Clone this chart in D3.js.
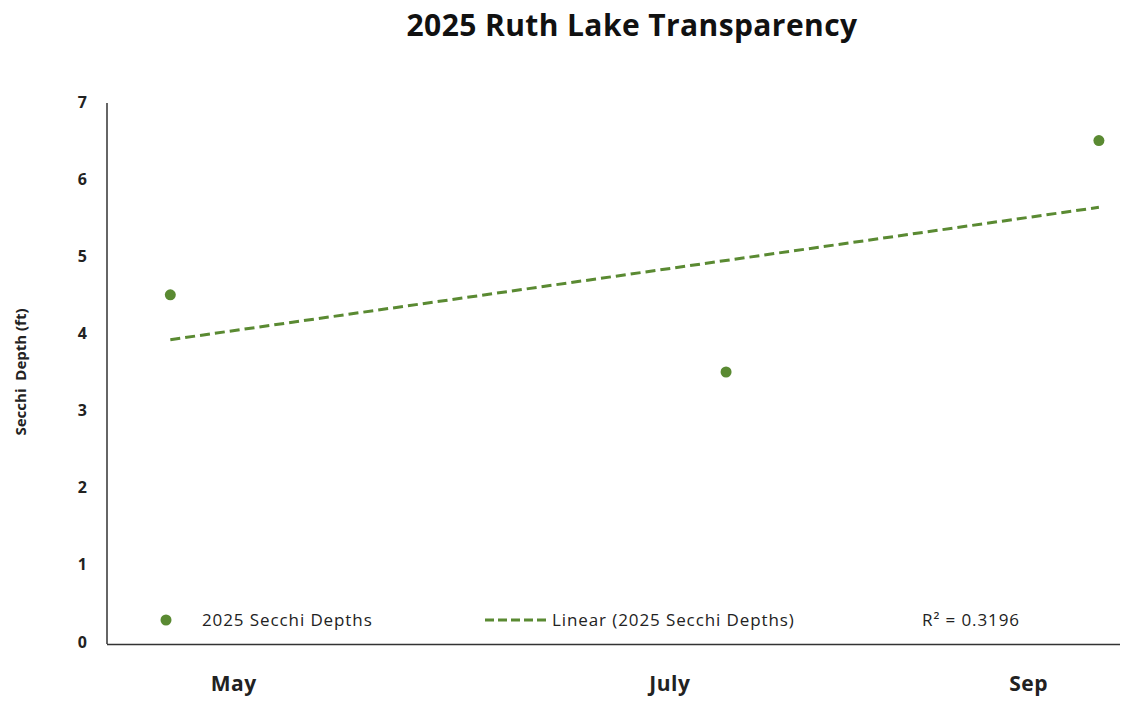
<!DOCTYPE html>
<html>
<head>
<meta charset="utf-8">
<script src="https://cdn.jsdelivr.net/npm/d3@7"></script>
<style>
  body { margin: 0; background: #fff; }
  svg text { font-family: "Open Sans", "Noto Sans", sans-serif; }
</style>
</head>
<body>
<div id="chart"></div>
<script>
var sampleDates = ["2025-05-11", "2025-07-29", "2025-09-20"];
var secchiDepths = [4.5, 3.5, 6.5];
var monthLabels = ["May", "July", "Sep"];
var monthLabelDates = ["2025-05-20", "2025-07-21", "2025-09-10"];
var yTicks = [0, 1, 2, 3, 4, 5, 6, 7];
var r2Label = "R\u00b2 = 0.3196";

var width = 1131, height = 702;
var green = "#5a8a32";
var parse = d3.timeParse("%Y-%m-%d");

var data = sampleDates.map(function(d, i) {
    return { date: parse(d), depth: secchiDepths[i] };
});

var svg = d3.select("#chart").append("svg")
    .attr("width", width)
    .attr("height", height);

var x = d3.scaleTime()
    .domain([parse("2025-05-02"), parse("2025-09-23")])
    .range([107, 1120]);

var y = d3.scaleLinear()
    .domain([0, 7])
    .range([642, 102]);

// title
svg.append("text")
    .attr("x", 632)
    .attr("y", 36)
    .attr("text-anchor", "middle")
    .attr("font-size", "30px")
    .attr("font-weight", "bold")
    .attr("letter-spacing", "0.4px")
    .attr("fill", "#111")
    .text("2025 Ruth Lake Transparency");

// y axis
var yAxis = svg.append("g")
    .attr("transform", "translate(107,0)")
    .call(d3.axisLeft(y).tickValues(yTicks).tickFormat(d3.format("d")).tickSize(0).tickPadding(20));
yAxis.select(".domain").attr("stroke", "#333").attr("stroke-width", 1.5)
    .attr("d", "M0," + (y(7) + 1) + "V" + (y(0) + 2));
yAxis.selectAll("text")
    .attr("font-size", "16px")
    .attr("font-weight", "bold")
    .attr("fill", "#222");

// x axis line
svg.append("line")
    .attr("x1", 107).attr("x2", 1120)
    .attr("y1", y(0) + 2.5).attr("y2", y(0) + 2.5)
    .attr("stroke", "#333")
    .attr("stroke-width", 1.5);

// month labels
svg.selectAll(".month")
    .data(monthLabels)
    .enter().append("text")
    .attr("class", "month")
    .attr("x", function(d, i) { return x(parse(monthLabelDates[i])); })
    .attr("y", 691)
    .attr("text-anchor", "middle")
    .attr("font-size", "21px")
    .attr("font-weight", "bold")
    .attr("letter-spacing", "0.5px")
    .attr("fill", "#222")
    .text(function(d) { return d; });

// y axis title
svg.append("text")
    .attr("transform", "translate(26," + y(3.5) + ") rotate(-90)")
    .attr("text-anchor", "middle")
    .attr("font-size", "15px")
    .attr("font-weight", "bold")
    .attr("fill", "#222")
    .attr("xml:space", "preserve")
    .text("Secchi  Depth (ft)");

// linear trend (least squares on day number)
var xs = data.map(function(d) { return +d.date; });
var mx = d3.mean(xs), my = d3.mean(secchiDepths);
var sxy = d3.sum(xs, function(v, i) { return (v - mx) * (secchiDepths[i] - my); });
var sxx = d3.sum(xs, function(v) { return (v - mx) * (v - mx); });
var slope = sxy / sxx;
var trend = [d3.min(xs), d3.max(xs)].map(function(v) {
    return { date: new Date(v), depth: my + slope * (v - mx) };
});

var line = d3.line()
    .x(function(d) { return x(d.date); })
    .y(function(d) { return y(d.depth); });

svg.append("path")
    .datum(trend)
    .attr("d", line)
    .attr("fill", "none")
    .attr("stroke", green)
    .attr("stroke-width", 3)
    .attr("stroke-dasharray", "10,5");

// points
svg.selectAll(".pt")
    .data(data)
    .enter().append("circle")
    .attr("class", "pt")
    .attr("cx", function(d) { return x(d.date); })
    .attr("cy", function(d) { return y(d.depth); })
    .attr("r", 5.5)
    .attr("fill", green);

// legend
var legY = 620;
function legendText(xPos, label) {
    svg.append("text")
        .attr("x", xPos).attr("y", legY + 6)
        .attr("font-size", "17px")
        .attr("letter-spacing", "0.9px")
        .attr("fill", "#222")
        .text(label);
}
svg.append("circle")
    .attr("cx", 166).attr("cy", legY).attr("r", 5.5)
    .attr("fill", green);
legendText(202, "2025 Secchi Depths");
svg.append("line")
    .attr("x1", 485).attr("x2", 549)
    .attr("y1", legY).attr("y2", legY)
    .attr("stroke", green)
    .attr("stroke-width", 3)
    .attr("stroke-dasharray", "9,4");
legendText(552, "Linear (2025 Secchi Depths)");
legendText(922, r2Label);
</script>
</body>
</html>
